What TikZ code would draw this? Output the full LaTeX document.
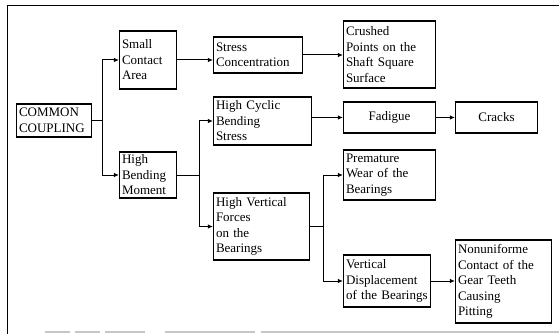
\documentclass[tikz,border=0pt]{standalone}
\usepackage{fontspec}
\setmainfont{Liberation Serif}
\usetikzlibrary{arrows.meta}
\hyphenpenalty=10000
\exhyphenpenalty=10000
\begin{document}
\begin{tikzpicture}[
  x=1pt, y=-1pt,
  font=\fontsize{13}{15.5}\selectfont,
  box/.style={draw, line width=1.2pt, align=left, inner xsep=2.5pt, inner ysep=1pt},
  mid/.style={box, align=center},
  arr/.style={line width=1pt, -{Latex[length=5pt, width=4.5pt]}},
  lnk/.style={line width=1pt}
]
\useasboundingbox (0,0) rectangle (559,334);

% frame of the scan
\draw[line width=1pt] (559,6) -- (7,6) -- (7,334);
\draw[gray!45, line width=1.5pt, dash pattern=on 25pt off 5pt on 25pt off 5pt on 40pt off 20pt on 90pt off 6pt on 300pt]
  (45,332) -- (559,332);

\node[box, text width=70pt, minimum height=33pt] (cc) at (54,120.5)
  {COMMON\\ COUPLING};

\node[box, text width=52pt, minimum height=58pt] (sca) at (148,60)
  {Small\\ Contact\\ Area};
\node[box, text width=84pt, minimum height=36pt] (sc) at (258,55)
  {Stress\\ Concentration};
\node[box, text width=87pt, minimum height=67pt] (cp) at (389.5,54.5)
  {Crushed\\ Points on the\\ Shaft Square\\ Surface};

\node[box, text width=52pt, minimum height=46pt] (hbm) at (148,175)
  {High\\ Bending\\ Moment};
\node[box, text width=93pt, minimum height=48pt] (hcbs) at (262.5,121)
  {High Cyclic\\ Bending\\ Stress};
\node[mid, text width=87pt, minimum height=31pt] (fad) at (389.5,117.5)
  {Fadigue};
\node[mid, text width=77pt, minimum height=31pt] (crk) at (496.5,117.5)
  {Cracks};

\node[box, text width=91pt, minimum height=67pt] (hvf) at (261.5,226.5)
  {High Vertical\\ Forces\\ on the\\ Bearings};
\node[box, text width=87pt, minimum height=50pt] (pw) at (389.5,175)
  {Premature\\ Wear of the\\ Bearings};
\node[box, text width=82pt, minimum height=52pt] (vd) at (387,281)
  {Vertical\\ Displacement\\ of the Bearings};
\node[box, text width=91pt, minimum height=83pt] (nc) at (503.5,281.5)
  {Nonuniforme\\ Contact of the\\ Gear Teeth\\ Causing\\ Pitting};

% branch points
\coordinate (j1) at (102,120.5);
\coordinate (j2) at (199,175);
\coordinate (j3) at (323,226.5);

\draw[lnk] (cc.east) -- (j1);
\draw[arr] (j1) |- (sca.west);
\draw[arr] (j1) |- (hbm.west);
\draw[arr] (sca.east) -- (sca.east -| sc.west);
\draw[arr] (sc.east) -- (sc.east -| cp.west);

\draw[lnk] (hbm.east) -- (j2);
\draw[arr] (j2) |- (hcbs.west);
\draw[arr] (j2) |- (hvf.west);
\draw[arr] (fad.west -| hcbs.east) -- (fad.west);
\draw[arr] (fad.east) -- (crk.west);

\draw[lnk] (hvf.east) -- (j3);
\draw[arr] (j3) |- (pw.west);
\draw[arr] (j3) |- (vd.west);
\draw[arr] (vd.east) -- (vd.east -| nc.west);
\end{tikzpicture}
\end{document}
